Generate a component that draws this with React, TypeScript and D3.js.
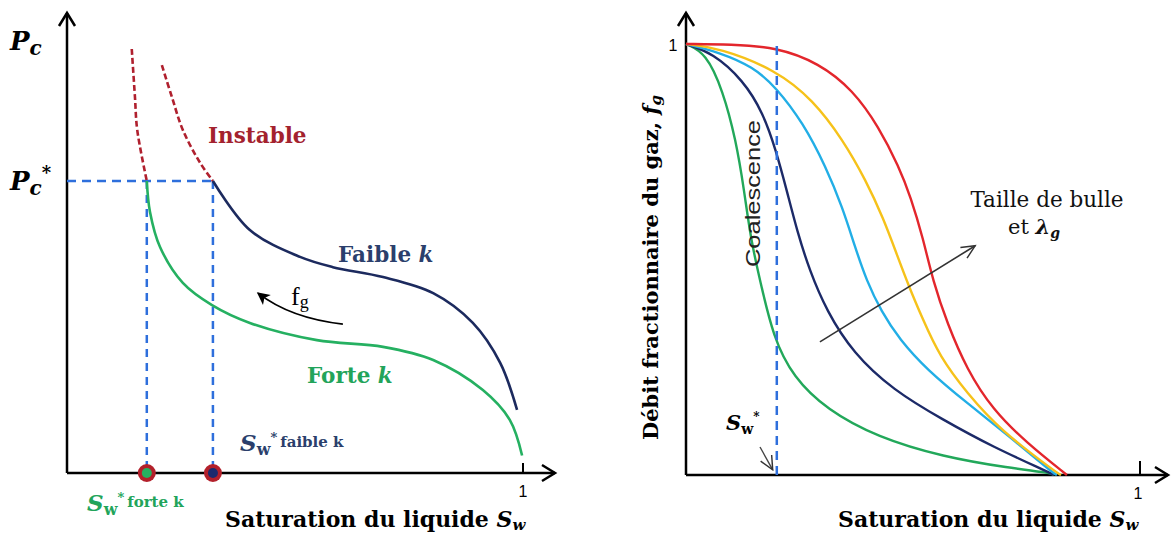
import React from "react";
import * as d3 from "d3";

// ---------- LEFT PANEL DATA (Sw, Pc/Pc*) ----------
const faibleK: [number, number][] = [
  [0.32, 1.0], [0.401, 0.832], [0.511, 0.74], [0.583, 0.705], [0.693, 0.671],
  [0.803, 0.616], [0.89, 0.514], [0.95, 0.377], [0.987, 0.216],
];
const forteK: [number, number][] = [
  [0.175, 1.0], [0.182, 0.894], [0.204, 0.774], [0.254, 0.651], [0.318, 0.575],
  [0.401, 0.514], [0.548, 0.455], [0.693, 0.432], [0.803, 0.387], [0.912, 0.284],
  [0.971, 0.182], [0.998, 0.06],
];
const instable1: [number, number][] = [
  [0.142, 1.452], [0.149, 1.288], [0.154, 1.175], [0.175, 1.0],
];
const instable2: [number, number][] = [
  [0.208, 1.397], [0.23, 1.288], [0.254, 1.175], [0.292, 1.062], [0.32, 1.0],
];
const swStarForte = 0.175;
const swStarFaible = 0.32;
const pcStar = 1.0;
const fgArrow: [number, number][] = [[0.605, 0.51], [0.49, 0.53], [0.419, 0.616]];

// ---------- RIGHT PANEL DATA (Sw, fg) ----------
const fgRed: [number, number][] = [
  [0, 1], [0.1, 0.999], [0.198, 0.993], [0.293, 0.956], [0.368, 0.893], [0.425, 0.807],
  [0.469, 0.715], [0.495, 0.645], [0.522, 0.55], [0.544, 0.45], [0.575, 0.353],
  [0.619, 0.244], [0.676, 0.151], [0.751, 0.074], [0.839, 0],
];
const fgYellow: [number, number][] = [
  [0, 1], [0.073, 0.991], [0.198, 0.94], [0.28, 0.87], [0.346, 0.777], [0.396, 0.684],
  [0.435, 0.595], [0.465, 0.51], [0.49, 0.44], [0.52, 0.365], [0.559, 0.274],
  [0.619, 0.19], [0.692, 0.104], [0.817, 0.005], [0.826, 0],
];
const fgCyan: [number, number][] = [
  [0, 1], [0.073, 0.981], [0.148, 0.947], [0.198, 0.9], [0.258, 0.817], [0.308, 0.715],
  [0.345, 0.62], [0.372, 0.53], [0.398, 0.45], [0.43, 0.38], [0.47, 0.315],
  [0.531, 0.244], [0.619, 0.167], [0.714, 0.088], [0.808, 0.005], [0.817, 0],
];
const fgNavy: [number, number][] = [
  [0, 1], [0.059, 0.979], [0.126, 0.916], [0.17, 0.84], [0.198, 0.754], [0.222, 0.66],
  [0.245, 0.565], [0.272, 0.475], [0.31, 0.38], [0.368, 0.283], [0.456, 0.197],
  [0.566, 0.128], [0.676, 0.065], [0.802, 0.005], [0.81, 0],
];
const fgGreen: [number, number][] = [
  [0, 1], [0.044, 0.979], [0.081, 0.893], [0.11, 0.777], [0.128, 0.661], [0.143, 0.545],
  [0.163, 0.452], [0.192, 0.32], [0.236, 0.227], [0.311, 0.151], [0.421, 0.088],
  [0.566, 0.042], [0.714, 0.016], [0.802, 0.005], [0.81, 0],
];
const swStarRight = 0.2;
const sizeArrow: [number, number][] = [[0.295, 0.309], [0.637, 0.532]];
const swStarArrow: [number, number][] = [[0.163, 0.065], [0.191, 0.012]];

const SERIF = "'DejaVu Serif', 'Liberation Serif', serif";
const TSERIF = "'Liberation Serif', serif";
const SANS = "'Liberation Sans', Arial, sans-serif";

export default function App() {
  const xL = d3.scaleLinear().domain([0, 1]).range([67, 523]);
  const yL = d3.scaleLinear().domain([0, 1]).range([473, 181]);
  const xR = d3.scaleLinear().domain([0, 1]).range([686, 1140]);
  const yR = d3.scaleLinear().domain([0, 1]).range([475, 44]);

  const lineL = d3.line<[number, number]>().x((d) => xL(d[0])).y((d) => yL(d[1])).curve(d3.curveCatmullRom.alpha(0.5));
  const lineR = d3.line<[number, number]>().x((d) => xR(d[0])).y((d) => yR(d[1])).curve(d3.curveBasis);

  const blueDash = "#2e6fdc";
  const redDash = "#b0202e";
  const navy = "#1c2a5e";
  const green = "#25b061";

  const fgPath = d3.path();
  fgPath.moveTo(xL(fgArrow[0][0]), yL(fgArrow[0][1]));
  fgPath.quadraticCurveTo(xL(fgArrow[1][0]), yL(fgArrow[1][1]), xL(fgArrow[2][0]), yL(fgArrow[2][1]));

  const rightCurves: { d: [number, number][]; c: string }[] = [
    { d: fgGreen, c: "#22a85a" },
    { d: fgNavy, c: "#1c2a68" },
    { d: fgCyan, c: "#22aee6" },
    { d: fgYellow, c: "#f6c21a" },
    { d: fgRed, c: "#e3262c" },
  ];

  return (
    <svg width={1171} height={533} style={{ position: "absolute", left: 0, top: 0, background: "#fff" }}>
      <defs>
        <marker id="chev" viewBox="0 0 20 20" refX="17" refY="10" markerWidth="20" markerHeight="20" markerUnits="userSpaceOnUse" orient="auto">
          <path d="M4,2 L17,10 L4,18" fill="none" stroke="#000" strokeWidth={2.5} />
        </marker>
        <marker id="thinChev" viewBox="0 0 20 20" refX="18" refY="10" markerWidth="18" markerHeight="18" markerUnits="userSpaceOnUse" orient="auto">
          <path d="M3,3 L18,10 L3,17" fill="none" stroke="#333" strokeWidth={1.6} />
        </marker>
        <marker id="solidHead" viewBox="0 0 20 20" refX="16" refY="10" markerWidth="16" markerHeight="16" markerUnits="userSpaceOnUse" orient="auto">
          <path d="M2,2 L18,10 L2,18 L6,10 Z" fill="#000" />
        </marker>
      </defs>

      {/* ================= LEFT PANEL ================= */}
      <line x1={67} y1={473} x2={67} y2={13} stroke="#000" strokeWidth={2.5} markerEnd="url(#chev)" />
      <line x1={67} y1={473} x2={555} y2={473} stroke="#000" strokeWidth={2.5} markerEnd="url(#chev)" />
      <line x1={xL(1)} y1={463} x2={xL(1)} y2={473} stroke="#000" strokeWidth={2} />
      <text x={xL(1)} y={497} fontFamily={SANS} fontSize={16} textAnchor="middle">1</text>

      <line x1={67} y1={yL(pcStar)} x2={xL(swStarFaible)} y2={yL(pcStar)} stroke={blueDash} strokeWidth={2.5} strokeDasharray="9,6" />
      <line x1={xL(swStarForte)} y1={yL(pcStar)} x2={xL(swStarForte)} y2={473} stroke={blueDash} strokeWidth={2.5} strokeDasharray="8,6" />
      <line x1={xL(swStarFaible)} y1={yL(pcStar)} x2={xL(swStarFaible)} y2={473} stroke={blueDash} strokeWidth={2.5} strokeDasharray="8,6" />

      <path d={lineL(instable1) ?? ""} fill="none" stroke={redDash} strokeWidth={2.6} strokeDasharray="6,3" />
      <path d={lineL(instable2) ?? ""} fill="none" stroke={redDash} strokeWidth={2.6} strokeDasharray="6,3" />

      <path d={lineL(faibleK) ?? ""} fill="none" stroke={navy} strokeWidth={2.6} />
      <path d={lineL(forteK) ?? ""} fill="none" stroke={green} strokeWidth={2.6} />

      <path d={fgPath.toString()} fill="none" stroke="#000" strokeWidth={1.8} markerEnd="url(#solidHead)" />
      <text x={291} y={305} fontFamily={TSERIF} fontSize={26}>
        f<tspan fontSize={18} dy={3}>g</tspan>
      </text>

      <circle cx={xL(swStarForte)} cy={473} r={9} fill="#b3202b" />
      <circle cx={xL(swStarForte)} cy={473} r={5} fill={green} />
      <circle cx={xL(swStarFaible)} cy={473} r={9} fill="#b3202b" />
      <circle cx={xL(swStarFaible)} cy={473} r={5} fill="#1c2a6e" />

      <text x={10} y={50} fontFamily={SERIF} fontSize={26} fontWeight="bold" fontStyle="italic">
        P<tspan fontSize={20} dy={5}>c</tspan>
      </text>
      <text x={10} y={190} fontFamily={SERIF} fontSize={26} fontWeight="bold" fontStyle="italic">
        P<tspan fontSize={20} dy={5}>c</tspan><tspan fontSize={18} dy={-16}>*</tspan>
      </text>
      <text x={208} y={143} fontFamily={SERIF} fontSize={21.5} fontWeight="bold" fill="#a3222e">Instable</text>
      <text x={338} y={262} fontFamily={SERIF} fontSize={21.5} fontWeight="bold" fill="#2b3f6c">
        Faible <tspan fontStyle="italic">k</tspan>
      </text>
      <text x={307} y={383} fontFamily={SERIF} fontSize={21.5} fontWeight="bold" fill="#22a45a">
        Forte <tspan fontStyle="italic">k</tspan>
      </text>
      <text x={240} y={451} fontFamily={SERIF} fontWeight="bold" fill="#2b3f6c" fontSize={23}>
        <tspan fontStyle="italic">S</tspan><tspan fontSize={16} dy={4}>w</tspan><tspan fontSize={13} dy={-13}>*</tspan>
        <tspan fontSize={15} dy={5} dx={3}>faible k</tspan>
      </text>
      <text x={87} y={511} fontFamily={SERIF} fontWeight="bold" fill="#22a45a" fontSize={23}>
        <tspan fontStyle="italic">S</tspan><tspan fontSize={16} dy={4}>w</tspan><tspan fontSize={13} dy={-13}>*</tspan>
        <tspan fontSize={15} dy={5} dx={3}>forte k</tspan>
      </text>
      <text x={225} y={527} fontFamily={SERIF} fontWeight="bold" fontSize={22}>
        Saturation du liquide <tspan fontStyle="italic">S</tspan><tspan fontSize={15} dy={3} fontStyle="italic">w</tspan>
      </text>

      {/* ================= RIGHT PANEL ================= */}
      <line x1={686} y1={475} x2={686} y2={13} stroke="#000" strokeWidth={2.5} markerEnd="url(#chev)" />
      <line x1={686} y1={475} x2={1168} y2={475} stroke="#000" strokeWidth={2.5} markerEnd="url(#chev)" />
      <line x1={xR(1)} y1={461} x2={xR(1)} y2={475} stroke="#000" strokeWidth={2} />
      <text x={xR(1) - 2} y={499} fontFamily={SANS} fontSize={16} textAnchor="middle">1</text>
      <text x={673} y={51} fontFamily={SANS} fontSize={16} textAnchor="middle">1</text>

      {rightCurves.map((c, i) => (
        <path key={i} d={lineR(c.d) ?? ""} fill="none" stroke={c.c} strokeWidth={2.4} />
      ))}

      <line x1={xR(swStarRight)} y1={yR(1) + 2} x2={xR(swStarRight)} y2={475} stroke={blueDash} strokeWidth={2.5} strokeDasharray="9,6" />

      <text transform={`translate(760,267) rotate(-90)`} fontFamily={SANS} fontSize={21} fill="#222" textLength={147} lengthAdjust="spacingAndGlyphs">Coalescence</text>

      <line x1={xR(sizeArrow[0][0])} y1={yR(sizeArrow[0][1])} x2={xR(sizeArrow[1][0])} y2={yR(sizeArrow[1][1])} stroke="#333" strokeWidth={1.6} markerEnd="url(#thinChev)" />
      <text x={1047} y={207} fontFamily={SERIF} fontSize={21.5} textAnchor="middle" fill="#111">Taille de bulle</text>
      <text x={1034} y={234} fontFamily={SERIF} fontSize={21} textAnchor="middle" fill="#111">
        et <tspan fontWeight="bold" fontStyle="italic">λ</tspan><tspan fontWeight="bold" fontStyle="italic" fontSize={14} dy={4}>g</tspan>
      </text>

      <text x={726} y={430} fontFamily={SERIF} fontWeight="bold" fontSize={21}>
        <tspan fontStyle="italic">S</tspan><tspan fontSize={14} dy={4}>w</tspan><tspan fontSize={12} dy={-13}>*</tspan>
      </text>
      <line x1={xR(swStarArrow[0][0])} y1={yR(swStarArrow[0][1])} x2={xR(swStarArrow[1][0])} y2={yR(swStarArrow[1][1])} stroke="#444" strokeWidth={1.4} markerEnd="url(#thinChev)" />

      <text transform={`translate(658,440) rotate(-90)`} fontFamily={SERIF} fontWeight="bold" fontSize={21}>
        Débit fractionnaire du gaz, <tspan fontStyle="italic">f</tspan><tspan fontStyle="italic" fontSize={15} dy={3}>g</tspan>
      </text>
      <text x={838} y={527} fontFamily={SERIF} fontWeight="bold" fontSize={22}>
        Saturation du liquide <tspan fontStyle="italic">S</tspan><tspan fontSize={15} dy={3} fontStyle="italic">w</tspan>
      </text>
    </svg>
  );
}
